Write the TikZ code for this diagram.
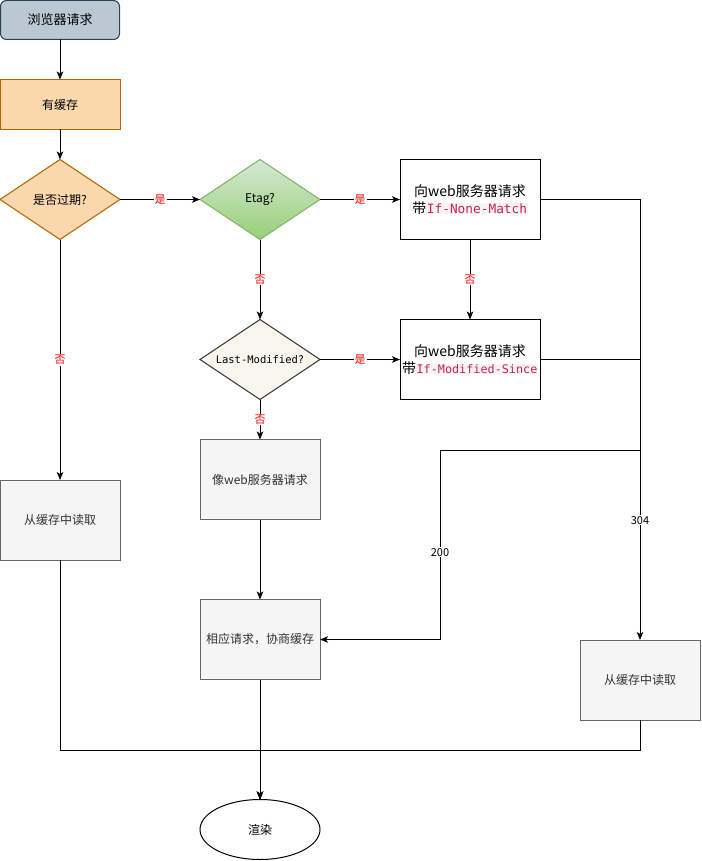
\documentclass[tikz,border=0pt]{standalone}
\usepackage{fontspec}
\setmainfont{Noto Sans CJK SC}
\newfontfamily\codefont{DejaVu Sans Mono}
\usetikzlibrary{arrows.meta, positioning, shapes.geometric}

\definecolor{bluefill}{HTML}{BAC8D3}
\definecolor{bluedraw}{HTML}{23445D}
\definecolor{orangefill}{HTML}{FAD7AC}
\definecolor{orangedraw}{HTML}{B46504}
\definecolor{greentop}{HTML}{D5E8D4}
\definecolor{greenbot}{HTML}{97D077}
\definecolor{greendraw}{HTML}{82B366}
\definecolor{creamfill}{HTML}{F9F7ED}
\definecolor{creamdraw}{HTML}{36393D}
\definecolor{grayfill}{HTML}{F5F5F5}
\definecolor{graydraw}{HTML}{666666}
\definecolor{graytext}{HTML}{333333}
\definecolor{codefg}{HTML}{C7254E}
\definecolor{codebg}{HTML}{F9F2F4}

\newcommand{\codebit}[2]{{\setlength{\fboxsep}{0.6pt}\colorbox{codebg}{\fontsize{#1}{#1}\codefont\color{codefg}#2}}}

\begin{document}
\begin{tikzpicture}[
    x=1pt, y=-1pt,
    line width=1pt,
    base/.style={draw, line width=1pt, outer sep=0pt, inner sep=2pt, align=center,
                 font=\fontsize{12}{15}\selectfont},
    box/.style={base, minimum width=120pt, minimum height=80pt},
    plain/.style={base, minimum width=140pt, minimum height=80pt,
                  font=\fontsize{14}{17}\selectfont},
    graybox/.style={box, fill=grayfill, draw=graydraw, text=graytext},
    decide/.style={base, diamond, aspect=1.5, inner sep=0pt,
                   minimum width=120pt, minimum height=80pt},
    arr/.style={-{Stealth[length=8pt, width=6.5pt, inset=2pt]}},
    lbl/.style={fill=white, inner sep=1pt, font=\fontsize{11}{13}\selectfont},
    yesno/.style={lbl, text=red}
]
\useasboundingbox (0,0) rectangle (701,861);

\node[base, rounded corners=6pt, minimum width=119pt, minimum height=39pt,
      fill=bluefill, draw=bluedraw, font=\fontsize{13}{15}\selectfont]
                                                  (browser) at (60,20) {浏览器请求};
\node[base, minimum width=120pt, minimum height=50pt, fill=orangefill, draw=orangedraw,
      below=40pt of browser]                      (cache)   {有缓存};
\node[decide, fill=orangefill, draw=orangedraw, below=30pt of cache] (expired) {是否过期?};
\node[decide, top color=greentop, bottom color=greenbot, draw=greendraw,
      right=80pt of expired]                      (etag)    {Etag?};
\node[plain, right=80pt of etag]                  (nonematch) {向web服务器请求\\带\codebit{12.8}{If-None-Match}};
\node[decide, fill=creamfill, draw=creamdraw, below=80pt of etag,
      font=\fontsize{10.5}{12}\codefont]          (lastmod) {Last-Modified?};
\node[plain, below=80pt of nonematch]             (modsince) {向web服务器请求\\带\codebit{11.8}{If-Modified-Since}};
\node[graybox, below=40pt of lastmod]             (ask)     {像web服务器请求};
\node[graybox, below=80pt of ask]                 (respond) {相应请求，协商缓存};
\node[graybox] at (60,520)                        (readL)   {从缓存中读取};
\node[graybox] at (640,680)                       (readR)   {从缓存中读取};
\node[base, ellipse, minimum width=120pt, minimum height=60pt,
      below=120pt of respond]                     (render)  {渲染};

\coordinate (split) at (640,450);
\coordinate (turn)  at (440,450);
\coordinate (merge) at (260,750);

\draw[arr] (browser) -- (cache);
\draw[arr] (cache)   -- (expired);
\draw[arr] (expired) -- node[yesno]{是} (etag);
\draw[arr] (expired) -- node[yesno]{否} (readL);
\draw[arr] (etag)    -- node[yesno]{是} (nonematch);
\draw[arr] (etag)    -- node[yesno]{否} (lastmod);
\draw[arr] (nonematch) -- node[yesno]{否} (modsince);
\draw[arr] (lastmod) -- node[yesno]{是} (modsince);
\draw[arr] (lastmod) -- node[yesno]{否} (ask);
\draw[arr] (nonematch) -| node[lbl, pos=0.864]{304} (readR);
\draw      (modsince)  -| (split);
\draw[arr] (split) -- (turn) |- node[lbl, pos=0.27]{200} (respond);
\draw[arr] (ask)     -- (respond);
\draw[arr] (respond) -- (render);
\draw[arr] (readL)   |- (merge) -- (render);
\draw[arr] (readR)   |- (merge) -- (render);
\end{tikzpicture}
\end{document}
